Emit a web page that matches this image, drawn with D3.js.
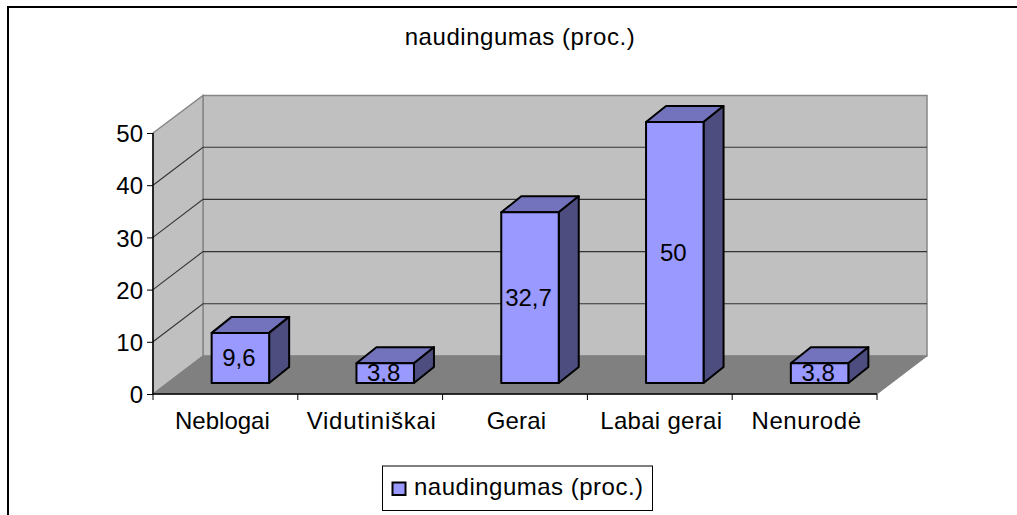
<!DOCTYPE html>
<html><head><meta charset="utf-8"><script src="https://cdn.jsdelivr.net/npm/d3@7/dist/d3.min.js"></script>
<style>html,body{margin:0;padding:0;background:#fff}svg{display:block}text{font-family:"Liberation Sans",Arial,sans-serif;fill:#000}</style></head>
<body><svg id="c" width="1017" height="515"></svg>
<script>
const categories = ["Neblogai","Vidutiniškai","Gerai","Labai gerai","Nenurodė"];
const values = [9.6,3.8,32.7,50,3.8];
const labels = ["9,6","3,8","32,7","50","3,8"];
const yTicks = [0,10,20,30,40,50];
const title = "naudingumas (proc.)";
const catSpacing = [0,0.75,0.2,0.3,0.6];
const catNudge = [-3,1.5,1.5,1.5,2];

const svg = d3.select("#c");
const fs = 24;
svg.append("path").attr("d","M8,515V7H1017").attr("fill","none").attr("stroke","#000").attr("stroke-width",2);

const x = d3.scaleBand().domain(categories).range([153,877]);
const y = d3.scaleLinear().domain([0,50]).range([394,133]);
const dx = 50, dy = -38;
const y0 = y(0), yT = y(50), xL = x.range()[0], xR = x.range()[1];
const line = d3.line();
const poly = p => line(p)+"Z";

svg.append("path").attr("d",poly([[xL+dx,y0+dy],[xR+dx,y0+dy],[xR+dx,yT+dy+0.5],[xL+dx,yT+dy+0.5]])).attr("fill","#c0c0c0").attr("stroke","#868686").attr("stroke-width",1.5);
svg.append("path").attr("d",poly([[xL,y0],[xL+dx,y0+dy],[xL+dx,yT+dy+0.5],[xL,yT]])).attr("fill","#c0c0c0").attr("stroke","#868686").attr("stroke-width",1.5);
svg.append("path").attr("d",poly([[xL,y0],[xR,y0],[xR+dx,y0+dy],[xL+dx,y0+dy]])).attr("fill","#808080").attr("stroke","#808080").attr("stroke-width",1);

yTicks.filter(t=>t>0&&t<50).forEach(t=>{
  svg.append("path").attr("d",line([[xL,y(t)],[xL+dx,y(t)+dy],[xR+dx,y(t)+dy]])).attr("fill","none").attr("stroke","#333").attr("stroke-width",1.1);
});

const gy = svg.append("g").attr("transform",`translate(${xL},0)`).call(d3.axisLeft(y).tickValues(yTicks).tickSize(6).tickPadding(4));
const gx = svg.append("g").attr("transform",`translate(0,${y0})`).call(d3.axisBottom(x).tickValues([]).tickSize(0));
gx.selectAll("g.b").data(d3.range(categories.length+1)).join("line")
  .attr("x1",i=>xL+i*x.step()).attr("x2",i=>xL+i*x.step()).attr("y1",0).attr("y2",6).attr("stroke","#000").attr("stroke-width",1);
gy.select(".domain").attr("stroke","#000").attr("stroke-width",1.5).attr("d",`M0,${yT}V${y0}`);
gx.select(".domain").attr("stroke","#000").attr("stroke-width",1.5).attr("d",`M${xL},0H${xR}`);
gy.selectAll("text").attr("font-size",fs).style("font-family",'"Liberation Sans"').attr("dy","0.36em");
svg.selectAll(".cat").data(categories).join("text").attr("class","cat")
  .attr("x",(d,i)=>x(d)+x.bandwidth()/2+catNudge[i]).attr("y",429).attr("text-anchor","middle").attr("font-size",fs)
  .attr("letter-spacing",(d,i)=>catSpacing[i]).text(d=>d);

const bw = 57.5, bx = 15, by = -11, ddx = 20, ddy = -16;
const g = svg.append("g");
categories.forEach((c,i)=>{
  const cx = x(c)+x.bandwidth()/2+bx;
  const l = cx-bw/2, r = cx+bw/2, b = y0+by, t = b-(y0-y(values[i]));
  const st = s=>s.attr("stroke","#000").attr("stroke-width",2).attr("stroke-linejoin","round");
  st(g.append("path").attr("d",poly([[l,t],[r,t],[r+ddx,t+ddy],[l+ddx,t+ddy]])).attr("fill","#7373bd"));
  st(g.append("path").attr("d",poly([[r,t],[r+ddx,t+ddy],[r+ddx,b+ddy],[r,b]])).attr("fill","#4d4d80"));
  st(g.append("path").attr("d",poly([[l,t],[r,t],[r,b],[l,b]])).attr("fill","#9999ff"));
  g.append("text").attr("x",cx-1.5).attr("y",(t+b)/2+8).attr("text-anchor","middle").attr("font-size",fs).text(labels[i]);
});

svg.append("text").attr("x",520).attr("y",45).attr("text-anchor","middle").attr("font-size",fs).attr("letter-spacing",0.55).text(title);

svg.append("rect").attr("x",382.5).attr("y",466).attr("width",270).attr("height",44.5).attr("fill","#fff").attr("stroke","#000").attr("stroke-width",1);
svg.append("rect").attr("x",392.5).attr("y",482.5).attr("width",13).attr("height",12.5).attr("fill","#9999ff").attr("stroke","#000").attr("stroke-width",2);
svg.append("text").attr("x",414).attr("y",495).attr("font-size",fs).attr("letter-spacing",0.5).text(title);
</script></body></html>
